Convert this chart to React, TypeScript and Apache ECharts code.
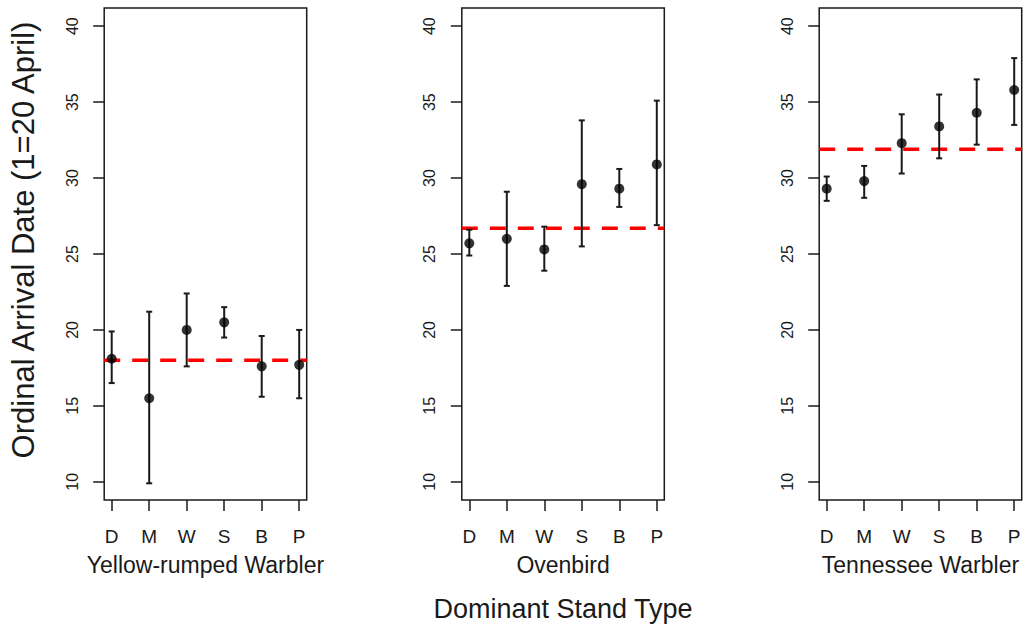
import React, { useEffect, useRef } from "react";
import * as echarts from "echarts";

// Stand types (x categories)
const categories = ["D", "M", "W", "S", "B", "P"];
const yTickValues = [10, 15, 20, 25, 30, 35, 40];

const speciesNames = ["Yellow-rumped Warbler", "Ovenbird", "Tennessee Warbler"];

// Yellow-rumped Warbler
const yrwaMean = [18.1, 15.5, 20.0, 20.5, 17.6, 17.7];
const yrwaLower = [16.5, 9.9, 17.6, 19.5, 15.6, 15.5];
const yrwaUpper = [19.9, 21.2, 22.4, 21.5, 19.6, 20.0];
const yrwaOverall = 18.0;

// Ovenbird
const ovenMean = [25.7, 26.0, 25.3, 29.6, 29.3, 30.9];
const ovenLower = [24.9, 22.9, 23.9, 25.5, 28.1, 26.9];
const ovenUpper = [26.6, 29.1, 26.8, 33.8, 30.6, 35.1];
const ovenOverall = 26.7;

// Tennessee Warbler
const tewaMean = [29.3, 29.8, 32.3, 33.4, 34.3, 35.8];
const tewaLower = [28.5, 28.7, 30.3, 31.3, 32.2, 33.5];
const tewaUpper = [30.1, 30.8, 34.2, 35.5, 36.5, 37.9];
const tewaOverall = 31.9;

const X_MIN = 0.8;
const X_MAX = 6.2;
const Y_MIN = 8.8;
const Y_MAX = 41.2;

const FONT = "'Liberation Sans', Arial, Helvetica, sans-serif";
const INK = "#1a1a1a";

export default function App() {
  const ref = useRef<HTMLDivElement>(null);

  useEffect(() => {
    if (!ref.current) return;
    const chart = echarts.init(ref.current, undefined, { renderer: "svg" });

    const panels = [
      { mean: yrwaMean, lower: yrwaLower, upper: yrwaUpper, overall: yrwaOverall },
      { mean: ovenMean, lower: ovenLower, upper: ovenUpper, overall: ovenOverall },
      { mean: tewaMean, lower: tewaLower, upper: tewaUpper, overall: tewaOverall },
    ];
    const xs = categories.map((_, i) => i + 1);

    const lefts = [104.2, 461.8, 819.2];
    const gridW = 202.5;
    const gridTop = 8;
    const gridH = 492;

    const grids: any[] = [];
    const xAxes: any[] = [];
    const yAxes: any[] = [];
    const series: any[] = [];
    const graphics: any[] = [];

    panels.forEach((p, i) => {
      grids.push({
        left: lefts[i],
        top: gridTop,
        width: gridW,
        height: gridH,
        show: true,
        borderColor: INK,
        borderWidth: 1.5,
        backgroundColor: "transparent",
      });
      xAxes.push({
        type: "value",
        gridIndex: i,
        min: X_MIN,
        max: X_MAX,
        axisLine: { show: false },
        splitLine: { show: false },
        axisTick: {
          show: true,
          customValues: xs,
          length: 11,
          lineStyle: { color: INK, width: 1.5 },
        },
        axisLabel: {
          show: true,
          customValues: xs,
          margin: 27,
          fontSize: 19,
          fontFamily: FONT,
          color: INK,
          formatter: (v: number) => categories[Math.round(v) - 1] ?? "",
        },
      });
      yAxes.push({
        type: "value",
        gridIndex: i,
        min: Y_MIN,
        max: Y_MAX,
        axisLine: { show: false },
        splitLine: { show: false },
        axisTick: {
          show: true,
          customValues: yTickValues,
          length: 11,
          lineStyle: { color: INK, width: 1.5 },
        },
        axisLabel: {
          show: true,
          customValues: yTickValues,
          rotate: 90,
          margin: 24,
          fontSize: 16,
          fontFamily: FONT,
          color: INK,
        },
      });
      // overall mean reference line
      series.push({
        type: "line",
        xAxisIndex: i,
        yAxisIndex: i,
        data: [
          [X_MIN, p.overall],
          [X_MAX, p.overall],
        ],
        symbol: "none",
        silent: true,
        z: 1,
        lineStyle: { color: "#ff0000", width: 3.5, type: [16, 12] },
      });
      // error bars
      series.push({
        type: "custom",
        xAxisIndex: i,
        yAxisIndex: i,
        z: 2,
        silent: true,
        encode: { x: 0, y: [1, 2] },
        data: xs.map((x, k) => [x, p.lower[k], p.upper[k]]),
        renderItem: (params: any, api: any) => {
          const x = api.value(0);
          const lo = api.coord([x, api.value(1)]);
          const hi = api.coord([x, api.value(2)]);
          const hw = 3;
          const style = { stroke: INK, lineWidth: 2 };
          return {
            type: "group",
            children: [
              { type: "line", shape: { x1: lo[0], y1: lo[1], x2: hi[0], y2: hi[1] }, style },
              { type: "line", shape: { x1: lo[0] - hw, y1: lo[1], x2: lo[0] + hw, y2: lo[1] }, style },
              { type: "line", shape: { x1: hi[0] - hw, y1: hi[1], x2: hi[0] + hw, y2: hi[1] }, style },
            ],
          };
        },
      });
      // means
      series.push({
        type: "scatter",
        xAxisIndex: i,
        yAxisIndex: i,
        z: 3,
        symbol: "circle",
        symbolSize: 10,
        itemStyle: { color: "#000000" },
        data: xs.map((x, k) => [x, p.mean[k]]),
      });
      graphics.push({
        type: "text",
        x: lefts[i] + gridW / 2,
        y: 565,
        style: {
          text: speciesNames[i],
          fontSize: 23,
          fontFamily: FONT,
          fill: INK,
          textAlign: "center",
          textVerticalAlign: "middle",
        },
      });
    });

    graphics.push({
      type: "text",
      x: lefts[1] + gridW / 2,
      y: 609,
      style: {
        text: "Dominant Stand Type",
        fontSize: 27,
        fontFamily: FONT,
        fill: INK,
        textAlign: "center",
        textVerticalAlign: "middle",
      },
    });
    graphics.push({
      type: "text",
      x: 23,
      y: 240,
      rotation: Math.PI / 2,
      style: {
        text: "Ordinal Arrival Date (1=20 April)",
        fontSize: 31,
        fontFamily: FONT,
        fill: INK,
        textAlign: "center",
        textVerticalAlign: "middle",
      },
    });

    chart.setOption({
      animation: false,
      backgroundColor: "#ffffff",
      grid: grids,
      xAxis: xAxes,
      yAxis: yAxes,
      series,
      graphic: graphics,
    });

    return () => {
      chart.dispose();
    };
  }, []);

  return (
    <div
      ref={ref}
      style={{ position: "fixed", left: 0, top: 0, width: 1024, height: 625 }}
    />
  );
}
